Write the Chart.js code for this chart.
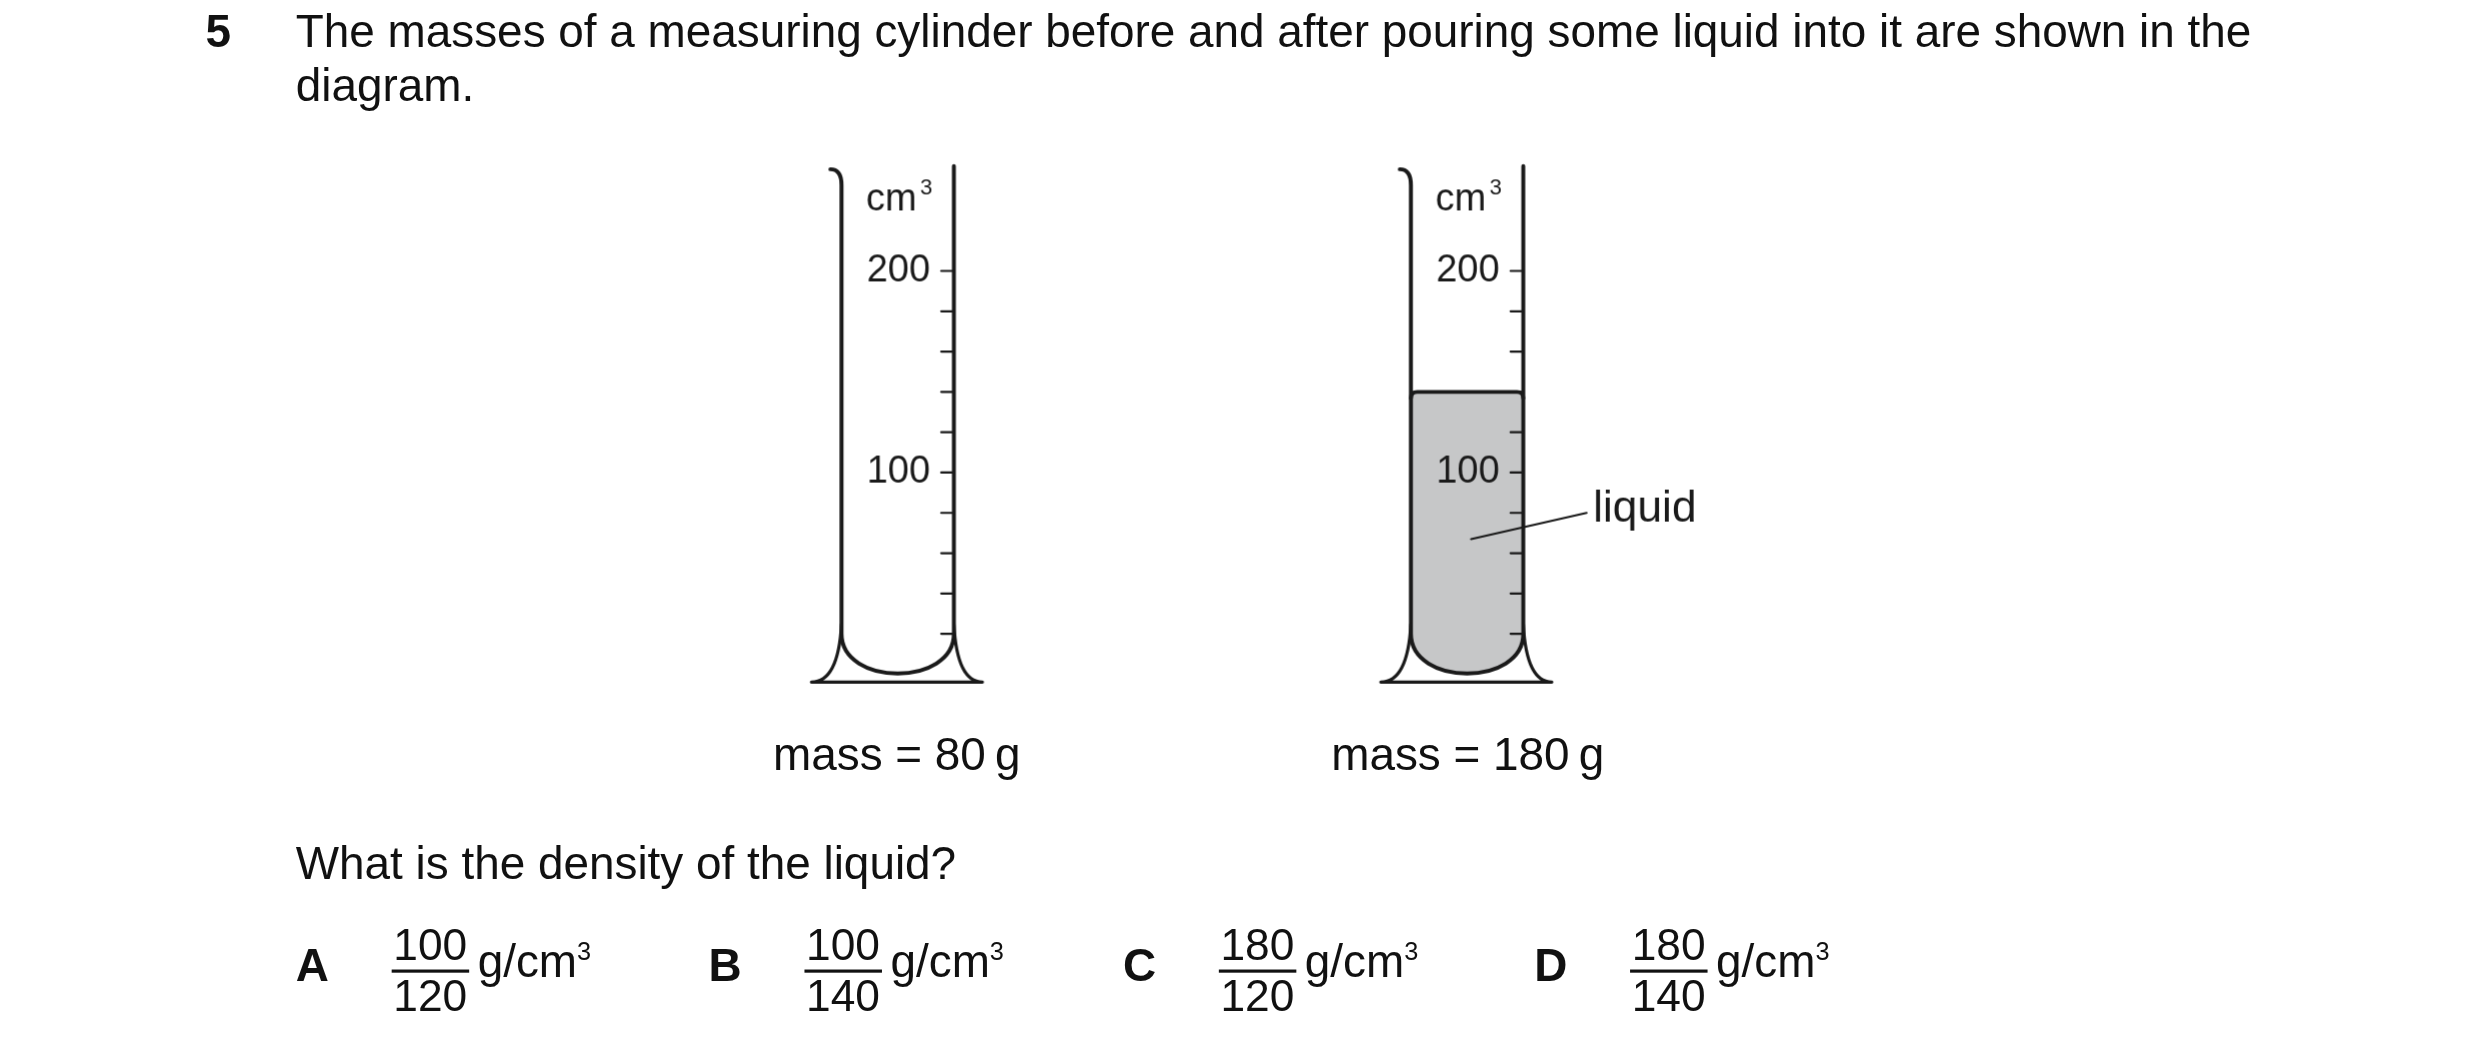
<!DOCTYPE html>
<html>
<head>
<meta charset="UTF-8" />
<script src="https://cdn.jsdelivr.net/npm/chart.js"></script>
<style>
  html, body { margin: 0; padding: 0; background: #fff; width: 2480px; height: 1050px; overflow: hidden; }
  #frame { position: absolute; left: 0; top: 0; width: 1568px; height: 664px; transform: scale(1.5816); transform-origin: 0 0;
    font-family: "Liberation Sans", Arial, sans-serif; color: #111; }
  .t { position: absolute; font-size: 29px; white-space: nowrap; line-height: 1; }
  .c { position: absolute; }
  .frac { position: absolute; font-size: 28px; text-align: center; line-height: 1; }
  .frac .num { display: block; padding: 0 1px 1px; border-bottom: 2px solid #111; }
  .frac .den { display: block; padding-top: 1px; }
  sup { font-size: 16px; vertical-align: 11px; line-height: 0; }
</style>
</head>
<body>
<div id="frame">
  <div class="t" style="left:130px;top:6px;font-weight:bold">5</div>
  <div class="t" style="left:187px;top:6px">The masses of a measuring cylinder before and after pouring some liquid into it are shown in the</div>
  <div class="t" style="left:187px;top:40px">diagram.</div>

  <div class="c" style="left:480px;top:90px;width:200px;height:360px"><canvas id="cyl1"></canvas></div>
  <div class="c" style="left:840px;top:90px;width:300px;height:360px"><canvas id="cyl2"></canvas></div>

  <div class="t" style="left:567px;top:463px;transform:translateX(-50%)">mass = 80&thinsp;g</div>
  <div class="t" style="left:928px;top:463px;transform:translateX(-50%)">mass = 180&thinsp;g</div>

  <div class="t" style="left:187px;top:532px">What is the density of the liquid?</div>
  <div id="options"></div>
</div>
<script>
  // data
  const volumeMax = 252;
  const tickValues = [20, 40, 60, 80, 100, 120, 140, 160, 180, 200];
  const tickLabels = [100, 200];
  const liquidVolume = [0, 140];
  const masses = [80, 180];
  const optionLetters = ['A', 'B', 'C', 'D'];
  const optionNum = [100, 100, 180, 180];
  const optionDen = [120, 140, 120, 140];

  const DPR = 1.5816;

  // options row
  const optX = [187, 448, 710, 970];
  const opts = document.getElementById('options');
  optionLetters.forEach((L, i) => {
    const x = optX[i];
    opts.innerHTML += `<div class="t" style="left:${x}px;top:596px;font-weight:bold">${L}</div>
      <div class="frac" style="left:${x + 85}px;top:584px;transform:translateX(-50%)"><span class="num">${optionNum[i]}</span><span class="den">${optionDen[i]}</span></div>
      <div class="t" style="left:${x + 115}px;top:594px">g/cm<sup>3</sup></div>`;
  });

  function cylinderPath(ctx, L, R, yBend, yBottom) {
    ctx.beginPath();
    ctx.moveTo(L, 0);
    ctx.lineTo(L, yBend);
    ctx.bezierCurveTo(L, yBottom + 8, R, yBottom + 8, R, yBend);
    ctx.lineTo(R, 0);
    ctx.closePath();
  }

  const cylinderPlugin = {
    id: 'cylinder',
    beforeDatasetsDraw(chart) {
      const { ctx, chartArea: a, scales: { y } } = chart;
      ctx.save();
      cylinderPath(ctx, a.left, a.right, y.getPixelForValue(20), y.getPixelForValue(0));
      ctx.clip();
    },
    afterDatasetsDraw(chart, args, o) {
      const { ctx, chartArea: a, scales: { y } } = chart;
      ctx.restore();
      const L = a.left, R = a.right, top = a.top;
      const yBend = y.getPixelForValue(20), y0 = y.getPixelForValue(0);
      const base = y0 + 5;
      ctx.strokeStyle = '#1a1a1a';
      ctx.lineCap = 'round';
      ctx.lineJoin = 'round';
      if (o.level > 0) {
        const yl = y.getPixelForValue(o.level);
        ctx.lineWidth = 2.5;
        ctx.beginPath();
        ctx.moveTo(L, yl + 4);
        ctx.quadraticCurveTo(L, yl, L + 4, yl);
        ctx.lineTo(R - 4, yl);
        ctx.quadraticCurveTo(R, yl, R, yl + 4);
        ctx.stroke();
      }
      ctx.lineWidth = 2.5;
      ctx.beginPath();
      ctx.moveTo(L - 7, top + 2);
      ctx.quadraticCurveTo(L, top + 2, L, top + 12);
      ctx.lineTo(L, yBend);
      ctx.bezierCurveTo(L, y0 + 8, R, y0 + 8, R, yBend);
      ctx.lineTo(R, top);
      ctx.stroke();
      ctx.lineWidth = 2;
      ctx.beginPath();
      ctx.moveTo(L, yBend - 6);
      ctx.quadraticCurveTo(L - 2, base, L - 19, base);
      ctx.lineTo(R + 18, base);
      ctx.quadraticCurveTo(R + 2, base, R, yBend - 6);
      ctx.stroke();
      ctx.lineWidth = 1.4;
      tickValues.forEach(v => {
        const py = y.getPixelForValue(v);
        ctx.beginPath();
        ctx.moveTo(R - 8, py);
        ctx.lineTo(R, py);
        ctx.stroke();
      });
      ctx.fillStyle = '#1a1a1a';
      ctx.font = '24px "Liberation Sans", Arial, sans-serif';
      ctx.textAlign = 'right';
      ctx.textBaseline = 'middle';
      tickLabels.forEach(v => ctx.fillText(String(v), R - 15, y.getPixelForValue(v)));
      ctx.textAlign = 'center';
      ctx.fillText('cm', (L + R) / 2 - 4, y.getPixelForValue(235));
      ctx.font = '14px "Liberation Sans", Arial, sans-serif';
      ctx.fillText('3', (L + R) / 2 + 18, y.getPixelForValue(241));
      if (o.level > 0) {
        const x1 = L + 38, y1 = y.getPixelForValue(67);
        const x2 = R + 40, y2 = y.getPixelForValue(80);
        ctx.lineWidth = 1.3;
        ctx.beginPath();
        ctx.moveTo(x1, y1);
        ctx.lineTo(x2, y2);
        ctx.stroke();
        ctx.font = '28px "Liberation Sans", Arial, sans-serif';
        ctx.textAlign = 'left';
        ctx.fillText('liquid', x2 + 4, y2 - 2);
      }
    }
  };

  function makeCylinder(id, level, rightPad) {
    new Chart(document.getElementById(id), {
      type: 'bar',
      data: {
        labels: ['cylinder'],
        datasets: [{ data: [level], backgroundColor: '#c6c7c8', base: -6, barPercentage: 1, categoryPercentage: 1, borderWidth: 0 }]
      },
      options: {
        responsive: true,
        maintainAspectRatio: false,
        animation: false,
        devicePixelRatio: DPR,
        layout: { padding: { left: 52, right: rightPad, top: 15, bottom: 24 } },
        plugins: { legend: { display: false }, tooltip: { enabled: false }, cylinder: { level } },
        scales: {
          x: { display: false },
          y: { display: false, min: 0, max: volumeMax }
        }
      },
      plugins: [cylinderPlugin]
    });
  }

  makeCylinder('cyl1', liquidVolume[0], 77);
  makeCylinder('cyl2', liquidVolume[1], 177);
</script>
</body>
</html>
